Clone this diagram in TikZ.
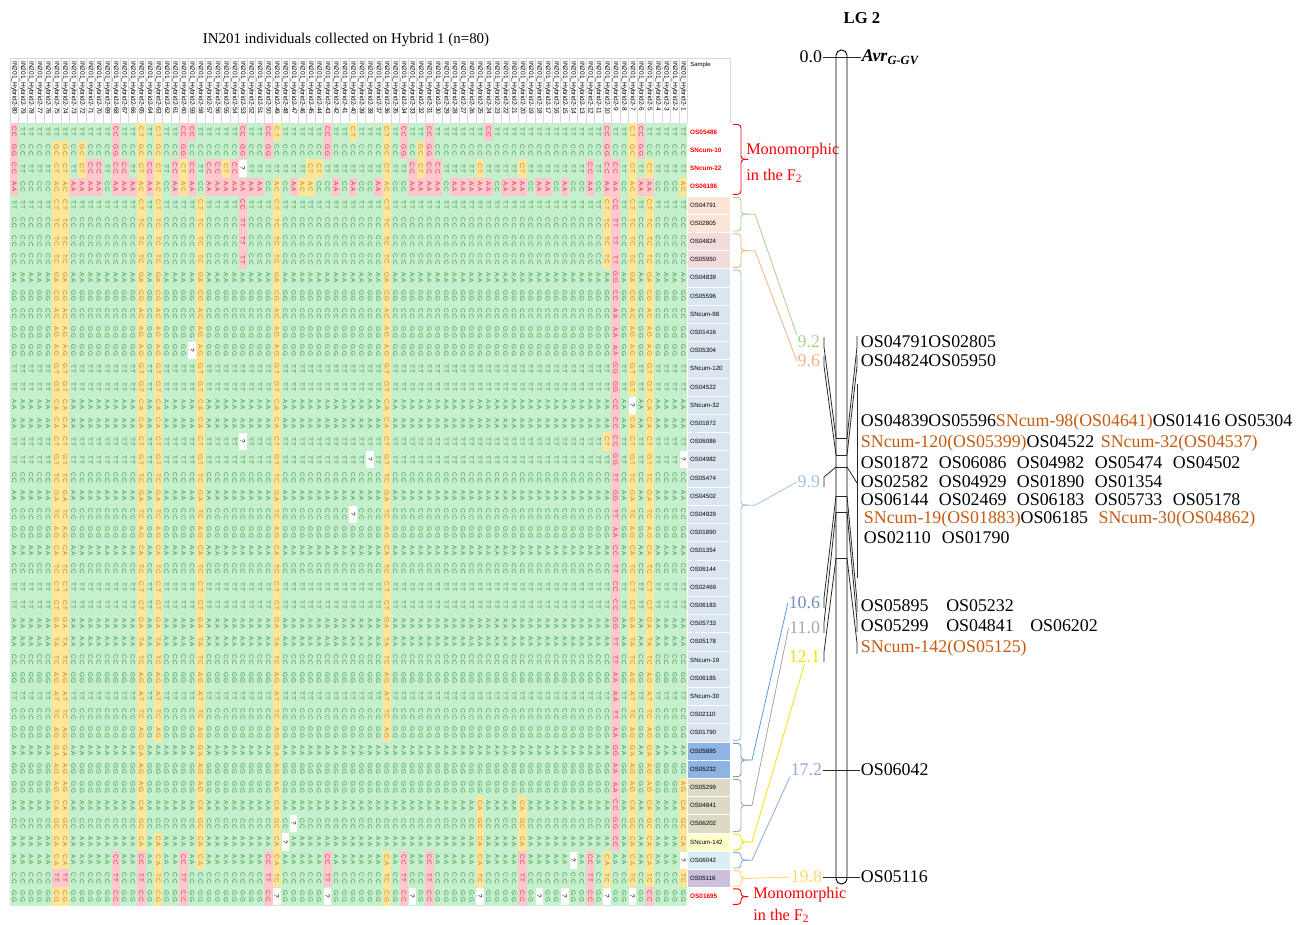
\documentclass[tikz,border=0pt]{standalone}
\usepackage{fontspec}
\setmainfont{Liberation Serif}
\setsansfont{Liberation Sans}
\usetikzlibrary{positioning}
\definecolor{gfill}{HTML}{C6EFCE}
\definecolor{gtext}{HTML}{3C9646}
\definecolor{yfill}{HTML}{FFE699}
\definecolor{ytext}{HTML}{B9822A}
\definecolor{pfill}{HTML}{FFC7CE}
\definecolor{ptext}{HTML}{D0343F}
\definecolor{sPeach}{HTML}{FCE4D6}
\definecolor{sRose}{HTML}{F2DCDB}
\definecolor{sBlue}{HTML}{DCE6F1}
\definecolor{sDeep}{HTML}{8DB4E2}
\definecolor{sTan}{HTML}{DDD9C4}
\definecolor{sYel}{HTML}{FFFFCC}
\definecolor{sCyan}{HTML}{DAEEF3}
\definecolor{sLav}{HTML}{CCC0DA}
\definecolor{hgrid}{HTML}{D9D9D9}
\definecolor{snc}{HTML}{C55A11}
\definecolor{c92}{HTML}{A9D18E}
\definecolor{c96}{HTML}{F4B183}
\definecolor{c99}{HTML}{9DC3E6}
\definecolor{c106}{HTML}{6F8BBA}
\definecolor{c106line}{HTML}{5B9BD5}
\definecolor{b106}{HTML}{8497B0}
\definecolor{c110}{HTML}{A6A6A6}
\definecolor{c121}{HTML}{F2E200}
\definecolor{c172}{HTML}{8EA9DB}
\definecolor{c198}{HTML}{FFD966}
% cell centres in pixel units
\newcommand{\colx}[1]{10+8.47*(#1-0.5)}
\newcommand{\rowy}[1]{123+18.2*(#1-0.5)}
% row: number, main homozygote, heterozygote, other homozygote, marker
\newcommand{\defrow}[5]{%
  \expandafter\def\csname gH#1\endcsname{#2}%
  \expandafter\def\csname gE#1\endcsname{#3}%
  \expandafter\def\csname gA#1\endcsname{#4}%
  \expandafter\def\csname gN#1\endcsname{#5}}
\defrow{1}{T:T}{C:T}{C:C}{OS05486}
\defrow{2}{C:C}{G:C}{G:G}{SNcum-10}
\defrow{3}{T:T}{C:T}{C:C}{SNcum-22}
\defrow{4}{C:C}{A:C}{A:A}{OS06186}
\defrow{5}{T:T}{C:T}{C:C}{OS04791}
\defrow{6}{C:C}{T:C}{T:T}{OS02805}
\defrow{7}{C:C}{T:C}{T:T}{OS04824}
\defrow{8}{C:C}{T:C}{T:T}{OS05950}
\defrow{9}{A:A}{G:A}{G:G}{OS04839}
\defrow{10}{G:G}{C:G}{C:C}{OS05596}
\defrow{11}{C:C}{A:C}{A:A}{SNcum-98}
\defrow{12}{G:G}{A:G}{A:A}{OS01416}
\defrow{13}{G:G}{A:G}{A:A}{OS05304}
\defrow{14}{T:T}{G:T}{G:G}{SNcum-120}
\defrow{15}{T:T}{G:T}{G:G}{OS04522}
\defrow{16}{A:A}{C:A}{C:C}{SNcum-32}
\defrow{17}{A:A}{C:A}{C:C}{OS01872}
\defrow{18}{T:T}{C:T}{C:C}{OS06086}
\defrow{19}{T:T}{G:T}{G:G}{OS04982}
\defrow{20}{C:C}{T:C}{T:T}{OS05474}
\defrow{21}{A:A}{G:A}{G:G}{OS04502}
\defrow{22}{C:C}{T:C}{T:T}{OS04929}
\defrow{23}{G:G}{A:G}{A:A}{OS01890}
\defrow{24}{A:A}{C:A}{C:C}{OS01354}
\defrow{25}{C:C}{T:C}{T:T}{OS06144}
\defrow{26}{T:T}{C:T}{C:C}{OS02469}
\defrow{27}{T:T}{C:T}{C:C}{OS06183}
\defrow{28}{A:A}{G:A}{G:G}{OS05733}
\defrow{29}{A:A}{T:A}{T:T}{OS05178}
\defrow{30}{C:C}{T:C}{T:T}{SNcum-19}
\defrow{31}{G:G}{A:G}{A:A}{OS06185}
\defrow{32}{T:T}{A:T}{A:A}{SNcum-30}
\defrow{33}{C:C}{T:C}{T:T}{OS02110}
\defrow{34}{G:G}{A:G}{A:A}{OS01790}
\defrow{35}{A:A}{G:A}{G:G}{OS05895}
\defrow{36}{G:G}{A:G}{A:A}{OS05232}
\defrow{37}{G:G}{A:G}{A:A}{OS05299}
\defrow{38}{A:A}{C:A}{C:C}{OS04841}
\defrow{39}{C:C}{G:C}{G:G}{OS06202}
\defrow{40}{A:A}{C:A}{C:C}{SNcum-142}
\defrow{41}{A:A}{C:A}{C:C}{OS06042}
\defrow{42}{C:C}{T:C}{T:T}{OS05116}
\defrow{43}{G:G}{C:G}{C:C}{OS01695}
% one genotype call, chosen by the state stored for column #1, row #2
\newcommand{\gtcell}[2]{%
  \makebox[13.65pt]{%
    \ifcsname st#1-#2\endcsname
      \if y\csname st#1-#2\endcsname\textcolor{ytext}{\csname gE#2\endcsname}\fi
      \if p\csname st#1-#2\endcsname\textcolor{ptext}{\csname gA#2\endcsname}\fi
      \if q\csname st#1-#2\endcsname ?\fi
    \else
      \textcolor{gtext}{\csname gH#2\endcsname}%
    \fi}}
% curly group bracket: top, bottom, colour, tip name
\newcommand{\grpbrace}[4]{%
  \draw[brace,#3] (733,#1) -- (741,#1) -- (741,{(#1+#2)/2}) -- (748,{(#1+#2)/2});
  \draw[brace,#3] (748,{(#1+#2)/2}) -- (741,{(#1+#2)/2}) -- (741,#2) -- (733,#2);
  \coordinate (#4) at (748,{(#1+#2)/2});}

\begin{document}
\begin{tikzpicture}[x=0.75pt,y=-0.75pt,
    gcol/.style={rotate=-90,anchor=west,inner sep=0pt,outer sep=0pt,
                 font=\sffamily\fontsize{4.8}{5}\selectfont},
    hdr/.style={rotate=-90,anchor=west,inner sep=0pt,font=\sffamily\fontsize{4.9}{5}\selectfont},
    samp/.style={minimum height=13.65pt,text width=28pt,inner xsep=2pt,inner ysep=0pt,
                 align=left,draw=white,line width=0.4pt,font=\sffamily\fontsize{4.6}{5}\selectfont},
    sampred/.style={samp,text=red,font=\sffamily\bfseries\fontsize{4.8}{5}\selectfont},
    brace/.style={line width=0.7pt,rounded corners=2.5pt},
    link/.style={line width=0.6pt},
    maplink/.style={line width=0.6pt,black!85},
    cmlab/.style={font=\fontsize{13.4}{14}\selectfont,inner sep=0.5pt,anchor=east},
    mklab/.style={font=\fontsize{13.4}{14}\selectfont,inner sep=0.5pt,anchor=west},
    mono/.style={font=\fontsize{12.2}{13}\selectfont,text=red,inner sep=0pt,anchor=west}
  ]
  \useasboundingbox (0,0) rectangle (1308,924);

  \node[font=\fontsize{11.2}{12}\selectfont] (title) at (346,40) {IN201 individuals collected on Hybrid 1 (n=80)};
  \node[font=\bfseries\fontsize{12.5}{13}\selectfont] (lg) at (862,18) {LG 2};

  % header row
  \foreach \c in {0,...,80}
    \draw[hgrid,line width=0.4pt] ({10+8.47*\c},58) -- ({10+8.47*\c},123);
  \draw[hgrid,line width=0.4pt] (10,58) -- (730,58) -- (730,123);
  \foreach \c in {1,...,80}{
    \pgfmathtruncatemacro{\k}{81-\c}
    \node[hdr] (h\c) at ({\colx{\c}},61) {IN201\_Hybrid2-\k};
  }
  \node[anchor=north west,inner sep=0pt,font=\sffamily\fontsize{4.5}{5}\selectfont] (smp) at (690,62) {Sample};

  % genotype grid: fills
  \fill[gfill] (10,123) rectangle (687.7,905.6);
  \foreach \c/\a/\b in {6/2/41,7/2/41,9/2/3,16/1/40,18/1/34,18/40/43,21/3/4,23/5/41,26/3/3,
      32/1/1,32/4/42,35/4/4,36/3/4,37/3/3,41/1/1,45/1/34,45/41/43,49/2/3,56/3/3,56/38/42,
      61/3/3,61/38/40,71/5/8,71/18/18,71/41/42,74/1/15,74/17/42,76/3/3,76/5/42,80/4/4,
      80/37/40,80/42/42,6/43/43,7/43/43}{
    \fill[yfill] ({10+8.47*(\c-1)},{123+18.2*(\a-1)}) rectangle ({10+8.47*\c},{123+18.2*\b});
    \foreach \r in {\a,...,\b}{\expandafter\gdef\csname st\c-\r\endcsname{y}}
  }
  \foreach \c/\a/\b in {1/1/4,13/1/4,28/1/2,28/4/8,31/1/2,38/1/2,21/1/2,22/1/1,
      10/3/4,11/3/4,14/3/4,17/3/4,20/3/4,22/3/4,24/3/4,25/3/4,27/3/4,
      8/4/4,9/4/4,15/4/4,26/4/4,29/4/4,30/4/4,34/4/4,39/4/4,
      6/42/42,7/42/42,13/41/43,16/41/43,21/41/43,31/41/43,38/41/42,
      47/1/2,50/1/4,57/1/1,69/3/4,71/1/4,72/3/40,75/1/2,75/4/4,76/4/4,48/3/4,51/3/4,
      41/4/4,44/4/4,49/4/4,53/4/4,54/4/4,55/4/4,56/4/4,57/4/4,59/4/4,60/4/4,61/4/4,
      63/4/4,64/4/4,66/4/4,47/41/43,50/41/43,61/41/43,69/41/43,76/43/43}{
    \fill[pfill] ({10+8.47*(\c-1)},{123+18.2*(\a-1)}) rectangle ({10+8.47*\c},{123+18.2*\b});
    \foreach \r in {\a,...,\b}{\expandafter\gdef\csname st\c-\r\endcsname{p}}
  }
  \foreach \c/\r in {28/3,22/13,28/18,34/39,33/40,32/43,38/43,74/16,43/19,80/19,41/22,
      67/41,80/41,48/43,56/43,63/43,66/43,71/43,74/43}{
    \fill[white] ({10+8.47*(\c-1)+0.5},{123+18.2*(\r-1)+0.5}) rectangle ({10+8.47*\c-0.5},{123+18.2*\r-0.5});
    \expandafter\gdef\csname st\c-\r\endcsname{q}
  }
  % genotype grid: calls, one rotated line per individual
  \foreach \c in {1,...,80}
    \node[gcol] (t\c) at ({\colx{\c}},123) {\foreach \r in {1,...,43}{\gtcell{\c}{\r}}};

  % sample column
  \draw[hgrid,line width=0.4pt] (687.7,58) rectangle (730,123);
  \foreach \r in {1,2,3,4,43}
    \node[sampred,fill=white] (s\r) at (708.85,{\rowy{\r}}) {\csname gN\r\endcsname};
  \foreach \a/\b/\clr in {5/6/sPeach,7/8/sRose,9/34/sBlue,35/36/sDeep,37/39/sTan,
      40/40/sYel,41/41/sCyan,42/42/sLav}{
    \foreach \r in {\a,...,\b}
      \node[samp,fill=\clr] (s\r) at (708.85,{\rowy{\r}}) {\csname gN\r\endcsname};
  }

  % group brackets
  \grpbrace{124.5}{194.3}{red}{tA}
  \grpbrace{197.3}{231.0}{c92}{tB}
  \grpbrace{233.9}{267.4}{c96}{tC}
  \grpbrace{270.1}{740.3}{c99}{tD}
  \grpbrace{743.3}{776.7}{b106}{tE}
  \grpbrace{779.3}{831.6}{c110}{tF}
  \grpbrace{834.2}{849.8}{c121}{tG}
  \grpbrace{852.4}{868.0}{c172}{tH}
  \grpbrace{870.6}{886.2}{c198}{tI}
  \grpbrace{888.8}{904.4}{red}{tJ}
  \node[mono] (mA1) at (746,151) {Monomorphic};
  \node[mono] (mA2) at (746,176) {in the F\textsubscript{2}};
  \node[mono] (mJ1) at (753,895) {Monomorphic};
  \node[mono] (mJ2) at (753,916) {in the F\textsubscript{2}};

  % linkage group
  \draw[line width=0.7pt,rounded corners=4pt] (836,50) rectangle (847,884);
  \foreach \n/\y in {00/57,92/438,96/455,99/467,106/496,110/512,121/558,172/770,198/877}{
    \coordinate (k\n L) at (836,\y);
    \coordinate (k\n R) at (847,\y);
  }
  \foreach \n in {92,96,99,106,110,121}
    \draw[maplink] (k\n L) -- (k\n R);

  \node[cmlab] (l00) at (823,57) {0.0};
  \node[cmlab,text=c92] (l92) at (821,342) {9.2};
  \node[cmlab,text=c96] (l96) at (821,361) {9.6};
  \node[cmlab,text=c99] (l99) at (821,482) {9.9};
  \node[cmlab,text=c106] (l106) at (821,603) {10.6};
  \node[cmlab,text=c110] (l110) at (821,628) {11.0};
  \node[cmlab,text=c121] (l121) at (821,657) {12.1};
  \node[cmlab,text=c172] (l172) at (823,770) {17.2};
  \node[cmlab,text=c198] (l198) at (823,877) {19.8};

  \node[mklab] (r00) at (861,57) {\textbf{\textit{Avr}}\textsubscript{\textbf{\textit{G-GV}}}};
  \node[mklab] (r92) at (860,342) {OS04791OS02805};
  \node[mklab] (r96) at (860,361) {OS04824OS05950};
  \node[mklab] (g1) at (860,422) {OS04839OS05596\textcolor{snc}{SNcum-98(OS04641)}OS01416 OS05304};
  \node[mklab] (g2) at (860,443) {\textcolor{snc}{SNcum-120(OS05399)}OS04522\hspace{5pt}\textcolor{snc}{SNcum-32(OS04537)}};
  \node[mklab] (g3) at (860,463) {\makebox[58.5pt][l]{OS01872}\makebox[58.5pt][l]{OS06086}\makebox[58.5pt][l]{OS04982}\makebox[58.5pt][l]{OS05474}OS04502};
  \node[mklab] (g4) at (860,482) {\makebox[58.5pt][l]{OS02582}\makebox[58.5pt][l]{OS04929}\makebox[58.5pt][l]{OS01890}OS01354};
  \node[mklab] (g5) at (860,500) {\makebox[58.5pt][l]{OS06144}\makebox[58.5pt][l]{OS02469}\makebox[58.5pt][l]{OS06183}\makebox[58.5pt][l]{OS05733}OS05178};
  \node[mklab] (g6) at (863,519) {\makebox[117.5pt][l]{\textcolor{snc}{SNcum-19(OS01883)}}\makebox[58.5pt][l]{OS06185}\textcolor{snc}{SNcum-30(OS04862)}};
  \node[mklab] (g7) at (863,538) {\makebox[58.5pt][l]{OS02110}OS01790};
  \node[mklab] (r106) at (860,606) {\makebox[64pt][l]{OS05895}OS05232};
  \node[mklab] (r110) at (860,626) {\makebox[64pt][l]{OS05299}\makebox[63pt][l]{OS04841}OS06202};
  \node[mklab,text=snc] (r121) at (860,648) {SNcum-142(OS05125)};
  \node[mklab] (r172) at (860,770) {OS06042};
  \node[mklab] (r198) at (860,877) {OS05116};

  % label ticks to the bar
  \draw[maplink] (l00.east) -- (r00.west);
  \draw[maplink] (l172.east) -- (r172.west);
  \draw[maplink] (l198.east) -- (r198.west);
  \foreach \n in {92,96}{
    \draw[maplink] ([shift={(3,-5)}]l\n.east) -- ([shift={(3,5)}]l\n.east) -- (k\n L);
    \draw[maplink] ([shift={(-3,-6)}]r\n.west) -- ([shift={(-3,5)}]r\n.west) -- (k\n R);
  }
  \foreach \n in {99,106,110,121}
    \draw[maplink] ([shift={(3,5)}]l\n.east) -- ([shift={(3,-5)}]l\n.east) -- (k\n L);
  \foreach \n in {106,110,121}
    \draw[maplink] ([shift={(-3,6)}]r\n.west) -- ([shift={(-3,-5)}]r\n.west) -- (k\n R);
  \coordinate (gtop) at (857,384);
  \coordinate (gbot) at (857,578);
  \coordinate (gmid) at (857,483);
  \draw[maplink] (gtop) -- (gbot);
  \draw[maplink] (gmid) -- (k99R);

  % brackets to positions
  \draw[link,c92] (tB) -- ++(7,0) -- (l92.north west);
  \draw[link,c96] (tC) -- ++(7,0) -- (l96.west);
  \draw[link,c99] (tD) -- ++(7,0) -- (l99.west);
  \draw[link,c106line] (tE) -- ++(4,0) -- (l106.west);
  \draw[link,c110] (tF) -- ++(4,0) -- (l110.west);
  \draw[link,c121] (tG) -- ++(4,0) -- (l121.south);
  \draw[link,c172] (tH) -- ++(4,0) -- (l172.south west);
  \draw[link,c198] (tI) -- (l198.west);
\end{tikzpicture}
\end{document}
